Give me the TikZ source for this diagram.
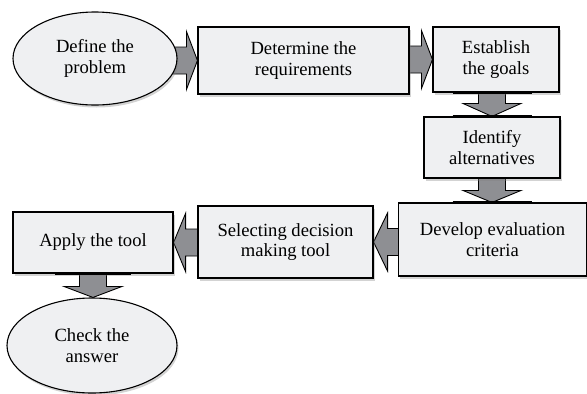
\documentclass[tikz,border=0pt]{standalone}
\usepackage{fontspec}
\setmainfont{Liberation Serif}
\usetikzlibrary{positioning}
\usetikzlibrary{calc}
\usetikzlibrary{shapes.geometric}
\usetikzlibrary{shadows}
\usetikzlibrary{backgrounds}
\definecolor{boxgray}{HTML}{EFF0F2}
\definecolor{arrowgray}{HTML}{8E8F93}
\tikzset{
  stagebox/.style={rectangle, draw=black, line width=1.1pt, fill=boxgray, align=center, inner sep=0pt,
    font=\fontsize{18.6}{20.5}\selectfont,
    drop shadow={shadow xshift=1.5pt, shadow yshift=-2.5pt, opacity=0.35}},
  stageoval/.style={stagebox, ellipse},
  fatarrow/.style={fill=arrowgray, draw=black, line width=0.9pt, line join=miter},
  joint/.style={line width=2.4pt}
}
% #1 start, #2 tip, #3 head length
\newcommand{\blockarrow}[3]{
  \coordinate (hb) at ($(#2)!#3!(#1)$);
  \filldraw[fatarrow] ($(#1)!13.5pt!90:(#2)$) -- ($(hb)!13.5pt!-90:(#1)$) -- ($(hb)!29pt!-90:(#1)$)
    -- (#2) -- ($(hb)!29pt!90:(#1)$) -- ($(hb)!13.5pt!90:(#1)$) -- ($(#1)!13.5pt!-90:(#2)$);
}

\begin{document}
\begin{tikzpicture}[x=1pt,y=-1pt]
            \useasboundingbox (0,0) rectangle (587,394);
            \node[stageoval, minimum width=164pt, minimum height=93pt] (define) at (95,58.5) {Define the\\problem};
            \node[stagebox, minimum width=211pt, minimum height=67pt] (determine) at (303.5,60.5) {Determine the\\requirements};
            \node[stagebox, minimum width=126pt, minimum height=65pt] (goals) at (496,59.5) {Establish\\the goals};
            \node[stagebox, minimum width=136pt, minimum height=61pt] (alt) at (492,147.5) {Identify\\alternatives};
            \node[stagebox, minimum width=188pt, minimum height=73pt] (criteria) at (492.5,239.5) {Develop evaluation\\criteria};
            \node[stagebox, minimum width=175pt, minimum height=72pt] (select) at (285.5,242) {Selecting decision\\making tool};
            \node[stagebox, minimum width=160pt, minimum height=61pt] (apply) at (93,242.5) {Apply the tool};
            \node[stageoval, minimum width=170pt, minimum height=95pt] (check) at (92,345.5) {Check the\\answer};
            \coordinate (s1) at (define |- determine.west);
            \coordinate (s2) at (determine |- goals.west);
            \coordinate (s3) at (alt |- goals);
            \coordinate (s5) at (criteria |- select.east);
            \coordinate (s6) at (select |- apply.east);
            \coordinate (t4) at (alt.south |- criteria.north);
            \coordinate (t7) at (apply.south |- check.north);
            \begin{pgfonlayer}{background}
            \blockarrow{s1}{determine.west}{11pt}
            \blockarrow{s2}{goals.west}{11pt}
            \blockarrow{s3}{alt.north}{13pt}
            \blockarrow{alt}{t4}{12pt}
            \blockarrow{s5}{select.east}{14pt}
            \blockarrow{s6}{apply.east}{12pt}
            \blockarrow{apply}{t7}{11pt}
            \end{pgfonlayer}
            \draw[joint] ($(alt |- goals.south)+(-39.5,0)$) -- ++(79,0);
            \draw[joint] ($(alt.north)+(-39.5,0)$) -- ++(79,0);
            \draw[joint] ($(t4)+(-39.5,0)$) -- ++(79,0);
            \draw[joint] ($(apply.south)+(-38,0)$) -- ++(76,0);
        \end{tikzpicture}
\end{document}
